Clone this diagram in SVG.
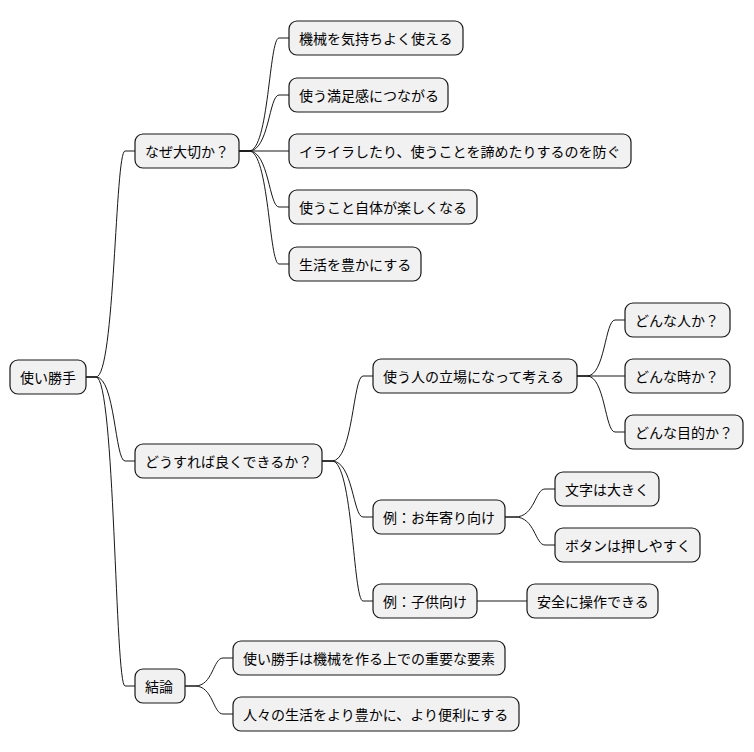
<svg xmlns="http://www.w3.org/2000/svg" width="754" height="752" viewBox="0 0 754 752">
<style>
rect{fill:#f1f1f1;stroke:#181818;stroke-width:1.2}
text{font-family:"Noto Sans CJK JP","Noto Sans",sans-serif;font-size:14px;fill:#000;dominant-baseline:central}
#c path{fill:none;stroke:#181818;stroke-width:1}
</style>
<rect width="754" height="752" style="fill:#fff;stroke:none"/>
<g id="c">
<path d="M86 377 h10 C115 377 115 151 125 151 h10"/>
<path d="M86 377 h10 C115 377 115 461 125 461 h10"/>
<path d="M86 377 h10 C115 377 115 686 125 686 h10"/>
<path d="M239 151 h10 C269 151 269 38 279 38 h10"/>
<path d="M239 151 h10 C269 151 269 95 279 95 h10"/>
<path d="M239 151 h50"/>
<path d="M239 151 h10 C269 151 269 207 279 207 h10"/>
<path d="M239 151 h10 C269 151 269 264 279 264 h10"/>
<path d="M322 461 h10 C353 461 353 376 363 376 h10"/>
<path d="M322 461 h10 C353 461 353 517 363 517 h10"/>
<path d="M322 461 h10 C353 461 353 601 363 601 h10"/>
<path d="M577 376 h10 C605 376 605 320 615 320 h10"/>
<path d="M577 376 h48"/>
<path d="M577 376 h10 C605 376 605 432 615 432 h10"/>
<path d="M505 517 h10 C535 517 535 489 545 489 h10"/>
<path d="M505 517 h10 C535 517 535 545 545 545 h10"/>
<path d="M477 601 h50"/>
<path d="M185 686 h10 C213 686 213 658 223 658 h10"/>
<path d="M185 686 h10 C213 686 213 714 223 714 h10"/>
</g>
<g id="n0"><rect x="10" y="360" width="76" height="34" rx="8"/><text x="20" y="377">使い勝手</text></g>
<g id="n1"><rect x="135" y="134" width="104" height="34" rx="8"/><text x="145" y="151">なぜ大切か？</text></g>
<g id="n2"><rect x="289" y="21" width="174" height="34" rx="8"/><text x="299" y="38">機械を気持ちよく使える</text></g>
<g id="n3"><rect x="289" y="78" width="159" height="34" rx="8"/><text x="299" y="95">使う満足感につながる</text></g>
<g id="n4"><rect x="289" y="134" width="342" height="34" rx="8"/><text x="299" y="151">イライラしたり、使うことを諦めたりするのを防ぐ</text></g>
<g id="n5"><rect x="289" y="190" width="188" height="34" rx="8"/><text x="299" y="207">使うこと自体が楽しくなる</text></g>
<g id="n6"><rect x="289" y="247" width="132" height="34" rx="8"/><text x="299" y="264">生活を豊かにする</text></g>
<g id="n7"><rect x="135" y="444" width="187" height="34" rx="8"/><text x="145" y="461">どうすれば良くできるか？</text></g>
<g id="n8"><rect x="373" y="359" width="204" height="34" rx="8"/><text x="383" y="376">使う人の立場になって考える</text></g>
<g id="n9"><rect x="625" y="303" width="105" height="34" rx="8"/><text x="635" y="320">どんな人か？</text></g>
<g id="n10"><rect x="625" y="359" width="105" height="34" rx="8"/><text x="635" y="376">どんな時か？</text></g>
<g id="n11"><rect x="625" y="415" width="118" height="34" rx="8"/><text x="635" y="432">どんな目的か？</text></g>
<g id="n12"><rect x="373" y="500" width="132" height="34" rx="8"/><text x="383" y="517">例：お年寄り向け</text></g>
<g id="n13"><rect x="555" y="472" width="104" height="34" rx="8"/><text x="565" y="489">文字は大きく</text></g>
<g id="n14"><rect x="555" y="528" width="145" height="34" rx="8"/><text x="565" y="545">ボタンは押しやすく</text></g>
<g id="n15"><rect x="373" y="584" width="104" height="34" rx="8"/><text x="383" y="601">例：子供向け</text></g>
<g id="n16"><rect x="527" y="584" width="131" height="34" rx="8"/><text x="537" y="601">安全に操作できる</text></g>
<g id="n17"><rect x="135" y="669" width="50" height="34" rx="8"/><text x="145" y="686">結論</text></g>
<g id="n18"><rect x="233" y="641" width="272" height="34" rx="8"/><text x="243" y="658">使い勝手は機械を作る上での重要な要素</text></g>
<g id="n19"><rect x="233" y="697" width="286" height="34" rx="8"/><text x="243" y="714">人々の生活をより豊かに、より便利にする</text></g>
</svg>
